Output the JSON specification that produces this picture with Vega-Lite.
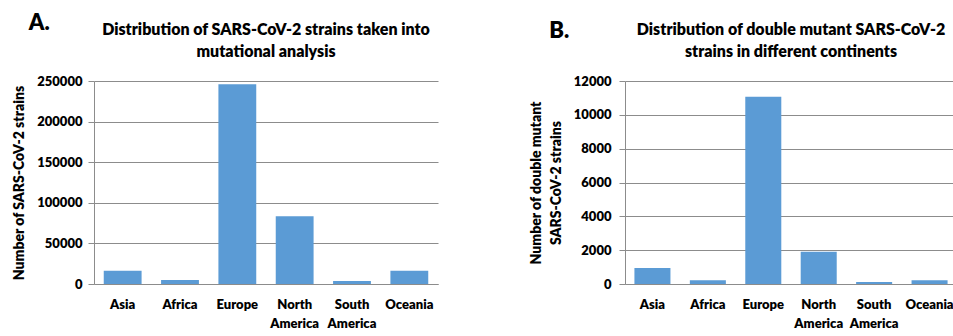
{
  "$schema": "https://vega.github.io/schema/vega-lite/v6.json",
  "padding": {"left": 12, "top": 12, "right": 0, "bottom": 0},
  "background": "white",
  "data": {"values": [
    {"continent": "Asia", "strains": 16400, "double_mutant": 945},
    {"continent": "Africa", "strains": 4900, "double_mutant": 218},
    {"continent": "Europe", "strains": 246000, "double_mutant": 11070},
    {"continent": "North America", "strains": 83300, "double_mutant": 1910},
    {"continent": "South America", "strains": 3700, "double_mutant": 118},
    {"continent": "Oceania", "strains": 16400, "double_mutant": 218}
  ]},
  "config": {
    "font": "Lato",
    "view": {"stroke": null},
    "axis": {
      "gridColor": "#8c8c8c",
      "domainColor": "#8c8c8c",
      "tickColor": "#8c8c8c",
      "labelFont": "Lato",
      "labelFontWeight": 800,
      "labelFontSize": 13,
      "labelColor": "#000000",
      "titleFont": "Lato",
      "titleFontWeight": 800,
      "titleFontSize": 14,
      "titleColor": "#000000"
    },
    "title": {"font": "Lato", "fontWeight": 800, "color": "#000000"}
  },
  "spacing": 91,
  "hconcat": [
    {
      "title": {"text": "A.", "anchor": "start", "fontSize": 22, "dx": 16, "offset": -13},
      "vconcat": [
        {
          "width": 344,
          "height": 203,
          "title": {"text": ["Distribution of SARS-CoV-2 strains taken into", "mutational analysis"], "fontSize": 16, "lineHeight": 22, "offset": 15, "anchor": "middle"},
          "mark": {"type": "bar", "color": "#5B9BD5"},
          "encoding": {
            "x": {"field": "continent", "type": "nominal", "sort": ["Asia", "Africa", "Europe", "North America", "South America", "Oceania"],
                  "scale": {"paddingInner": 0.34, "paddingOuter": 0.17},
                  "axis": {"title": null, "labelAngle": 0, "ticks": false, "labelPadding": 14, "labelExpr": "split(datum.label, ' ')", "labelLineHeight": 19}},
            "y": {"field": "strains", "type": "quantitative", "scale": {"domain": [0, 250000]},
                  "axis": {"title": "Number of SARS-CoV-2  strains", "values": [0, 50000, 100000, 150000, 200000, 250000], "format": "d", "tickSize": 6, "labelPadding": 6, "titlePadding": 10}}
          }
        }
      ]
    },
    {
      "title": {"text": "B.", "anchor": "start", "fontSize": 22, "dx": 20, "offset": -21},
      "vconcat": [
        {
          "width": 332,
          "height": 203,
          "title": {"text": ["Distribution of  double mutant SARS-CoV-2", "strains in different continents"], "fontSize": 16, "lineHeight": 22, "offset": 15, "anchor": "middle"},
          "mark": {"type": "bar", "color": "#5B9BD5"},
          "encoding": {
            "x": {"field": "continent", "type": "nominal", "sort": ["Asia", "Africa", "Europe", "North America", "South America", "Oceania"],
                  "scale": {"paddingInner": 0.35, "paddingOuter": 0.17},
                  "axis": {"title": null, "labelAngle": 0, "ticks": false, "labelPadding": 14, "labelExpr": "split(datum.label, ' ')", "labelLineHeight": 19}},
            "y": {"field": "double_mutant", "type": "quantitative", "scale": {"domain": [0, 12000]},
                  "axis": {"title": ["Number of double mutant", "SARS-CoV-2  strains"], "titleLineHeight": 20, "values": [0, 2000, 4000, 6000, 8000, 10000, 12000], "format": "d", "tickSize": 6, "labelPadding": 8, "titlePadding": 10}}
          }
        }
      ]
    }
  ]
}
